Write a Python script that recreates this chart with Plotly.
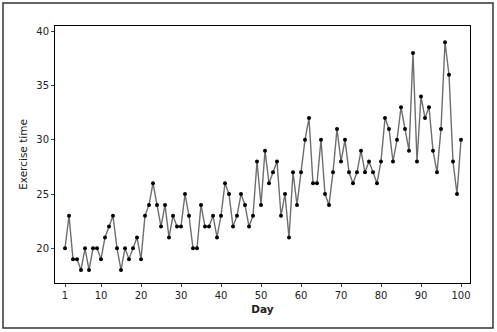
import plotly.graph_objects as go

# Daily exercise time over 100 days
days = list(range(1, 101))
exercise_time = [
    20, 23, 19, 19, 18, 20, 18, 20, 20, 19,
    21, 22, 23, 20, 18, 20, 19, 20, 21, 19,
    23, 24, 26, 24, 22, 24, 21, 23, 22, 22,
    25, 23, 20, 20, 24, 22, 22, 23, 21, 23,
    26, 25, 22, 23, 25, 24, 22, 23, 28, 24,
    29, 26, 27, 28, 23, 25, 21, 27, 24, 27,
    30, 32, 26, 26, 30, 25, 24, 27, 31, 28,
    30, 27, 26, 27, 29, 27, 28, 27, 26, 28,
    32, 31, 28, 30, 33, 31, 29, 38, 28, 34,
    32, 33, 29, 27, 31, 39, 36, 28, 25, 30,
]
x_ticks = [1, 10, 20, 30, 40, 50, 60, 70, 80, 90, 100]
y_ticks = [20, 25, 30, 35, 40]

fig = go.Figure(
    go.Scatter(
        x=days,
        y=exercise_time,
        mode="lines+markers",
        line=dict(color="#6e6e6e", width=1.4),
        marker=dict(color="black", size=4, symbol="circle"),
        hoverinfo="x+y",
    )
)

axis_font = dict(family="DejaVu Sans", size=10, color="#222")

fig.update_layout(
    width=497,
    height=332,
    margin=dict(l=55, r=27, t=26, b=49),
    paper_bgcolor="white",
    plot_bgcolor="white",
    showlegend=False,
    font=axis_font,
    xaxis=dict(
        range=[-1.5, 102.25],
        tickvals=x_ticks,
        ticks="outside",
        ticklen=3,
        tickcolor="#444",
        showline=True,
        linecolor="black",
        linewidth=1,
        mirror=True,
        showgrid=False,
        zeroline=False,
        tickfont=axis_font,
        title=dict(text="<b>Day</b>", font=dict(family="DejaVu Sans", size=10.5, color="#222"), standoff=5),
    ),
    yaxis=dict(
        range=[16.8, 40.49],
        tickvals=y_ticks,
        ticks="outside",
        ticklen=3,
        tickcolor="#444",
        showline=True,
        linecolor="black",
        linewidth=1,
        mirror=True,
        showgrid=False,
        zeroline=False,
        tickfont=axis_font,
        title=dict(text="Exercise time", font=dict(family="DejaVu Sans", size=10.5, color="#222"), standoff=6),
    ),
    shapes=[
        dict(
            type="rect",
            xref="paper",
            yref="paper",
            x0=-0.1253,
            x1=1.0554,
            y0=-0.175,
            y1=1.0895,
            line=dict(color="#333", width=1.5),
            fillcolor="rgba(0,0,0,0)",
            layer="below",
        )
    ],
)

fig.write_html("out.html")
